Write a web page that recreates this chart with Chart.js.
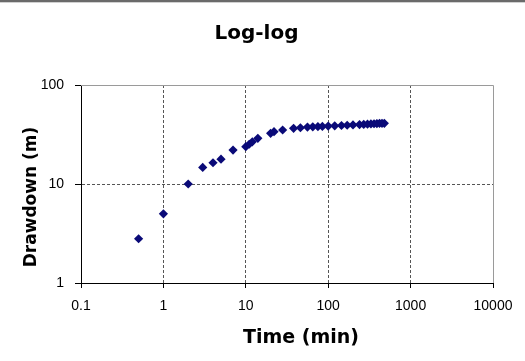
<!DOCTYPE html>
<html>
<head>
<meta charset="utf-8">
<script src="https://cdn.jsdelivr.net/npm/chart.js@4/dist/chart.umd.min.js"></script>
<style>
  html, body { margin: 0; padding: 0; background: #fff; }
  #wrap { width: 525px; height: 361px; }
</style>
</head>
<body>
<div id="wrap"><canvas id="c" width="525" height="361"></canvas></div>
<script>
// Data
const timeMin = [0.5, 1, 2, 3, 4, 5, 7, 10, 11, 12, 14, 20, 22, 28, 38, 46, 56, 65, 75, 85, 100, 120, 145, 170, 200, 240, 270, 300, 330, 360, 390, 420, 450, 480];
const drawdownM = [2.8, 5, 10, 14.7, 16.4, 17.8, 22, 23.8, 25.2, 26.7, 28.9, 32.5, 33.8, 35.1, 36.5, 37, 37.6, 37.8, 38, 38.2, 38.5, 38.7, 39, 39.2, 39.5, 39.8, 40, 40.2, 40.4, 40.6, 40.8, 41, 41, 41];
const xTicks = [0.1, 1, 10, 100, 1000, 10000];
const yTicks = [1, 10, 100];
const chartTitle = 'Log-log';
const xTitle = 'Time (min)';
const yTitle = 'Drawdown (m)';

const points = timeMin.map((t, i) => ({ x: t, y: drawdownM[i] }));

const frame = {
  id: 'frame',
  beforeDraw(chart) {
    const c = chart.ctx;
    c.save();
    c.fillStyle = '#fff';
    c.fillRect(0, 0, chart.width, chart.height);
    c.fillStyle = '#6a6a6a';
    c.fillRect(0, 0, chart.width, 2);
    c.fillStyle = '#d0d0d0';
    c.fillRect(0, 2, chart.width, 1);
    c.restore();
  },
  beforeDatasetsDraw(chart) {
    const a = chart.chartArea, c = chart.ctx;
    c.save();
    c.strokeStyle = '#9a9a9a';
    c.lineWidth = 1;
    c.beginPath();
    c.moveTo(a.left, a.top + 0.5);
    c.lineTo(a.right + 0.5, a.top + 0.5);
    c.lineTo(a.right + 0.5, a.bottom);
    c.stroke();
    c.restore();
  },
  afterDraw(chart) {
    const c = chart.ctx;
    c.save();
    c.fillStyle = '#000';
    c.textAlign = 'center';
    c.textBaseline = 'middle';
    c.font = 'bold 19px "DejaVu Sans"';
    c.fillText(xTitle, 301, 338);
    c.translate(32, 197);
    c.rotate(-Math.PI / 2);
    c.font = 'bold 17px "DejaVu Sans"';
    c.fillText(yTitle, 0, 0);
    c.restore();
  }
};

const gridColor = ctx => {
  const s = ctx.scale;
  if (!ctx.tick) return 'rgba(0,0,0,0)';
  const v = ctx.tick.value;
  return (Math.abs(v - s.min) < 1e-9 || Math.abs(v - s.max) < 1e-9) ? 'rgba(0,0,0,0)' : '#555';
};

new Chart(document.getElementById('c'), {
  type: 'scatter',
  data: {
    datasets: [{
      label: 'Drawdown',
      data: points,
      pointStyle: 'rectRot',
      pointRadius: 4.6,
      pointHoverRadius: 4.6,
      backgroundColor: '#0a0a78',
      borderColor: '#0a0a78',
      borderWidth: 0,
      showLine: false
    }]
  },
  options: {
    responsive: false,
    animation: false,
    events: [],
    layout: { padding: { left: 20, right: 32, top: 0, bottom: 0 } },
    plugins: {
      legend: { display: false },
      tooltip: { enabled: false },
      title: {
        display: true,
        text: chartTitle,
        color: '#000',
        font: { family: '"DejaVu Sans"', size: 20, weight: 'bold', lineHeight: 1.2 },
        padding: { top: 22, bottom: 39 }
      }
    },
    scales: {
      x: {
        type: 'logarithmic',
        min: 0.1,
        max: 10000,
        afterBuildTicks: s => { s.ticks = xTicks.map(v => ({ value: v })); },
        afterFit: s => { s.height = 78; },
        ticks: {
          color: '#000',
          font: { family: '"Liberation Sans"', size: 14 },
          padding: 10,
          maxRotation: 0,
          autoSkip: false,
          callback: v => String(v)
        },
        grid: {
          color: gridColor,
          lineWidth: 1,
          drawTicks: true,
          tickLength: 5,
          tickColor: '#000',
          tickBorderDash: []
        },
        border: { display: true, color: '#000', width: 1, dash: [3, 2] }
      },
      y: {
        type: 'logarithmic',
        min: 1,
        max: 100,
        afterBuildTicks: s => { s.ticks = yTicks.map(v => ({ value: v })); },
        afterFit: s => { s.width = 61; },
        ticks: {
          color: '#000',
          font: { family: '"Liberation Sans"', size: 14 },
          padding: 11,
          autoSkip: false,
          callback: v => String(v)
        },
        grid: {
          color: gridColor,
          lineWidth: 1,
          drawTicks: true,
          tickLength: 6,
          tickColor: '#000',
          tickBorderDash: []
        },
        border: { display: true, color: '#000', width: 1, dash: [3, 2] }
      }
    }
  },
  plugins: [frame]
});
</script>
</body>
</html>
